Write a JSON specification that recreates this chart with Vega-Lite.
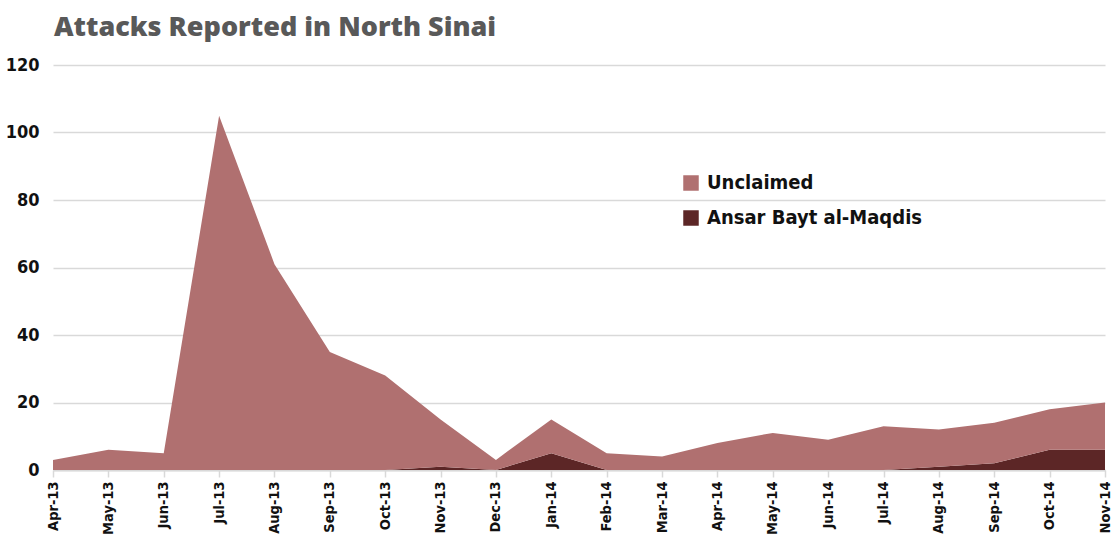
{
  "$schema": "https://vega.github.io/schema/vega-lite/v6.json",
  "width": 1052,
  "height": 405,
  "autosize": {"type": "none"},
  "padding": {"left": 53, "top": 65, "right": 10, "bottom": 68},
  "background": "white",
  "title": {
    "text": "Attacks Reported in North Sinai",
    "anchor": "start",
    "frame": "group",
    "font": "Open Sans",
    "fontSize": 27,
    "fontWeight": 800,
    "color": "#595959",
    "offset": 14,
    "dx": 1
  },
  "config": {
    "view": {"stroke": null},
    "axis": {
      "labelFont": "DejaVu Sans Condensed",
      "labelFontWeight": "bold",
      "labelColor": "#111111",
      "gridColor": "#d9d9d9",
      "gridWidth": 1.5,
      "title": null
    }
  },
  "data": {
    "values": [
      {"month": "Apr-13", "series": "Ansar Bayt al-Maqdis", "count": 0},
      {"month": "Apr-13", "series": "Unclaimed", "count": 3},
      {"month": "May-13", "series": "Ansar Bayt al-Maqdis", "count": 0},
      {"month": "May-13", "series": "Unclaimed", "count": 6},
      {"month": "Jun-13", "series": "Ansar Bayt al-Maqdis", "count": 0},
      {"month": "Jun-13", "series": "Unclaimed", "count": 5},
      {"month": "Jul-13", "series": "Ansar Bayt al-Maqdis", "count": 0},
      {"month": "Jul-13", "series": "Unclaimed", "count": 105},
      {"month": "Aug-13", "series": "Ansar Bayt al-Maqdis", "count": 0},
      {"month": "Aug-13", "series": "Unclaimed", "count": 61},
      {"month": "Sep-13", "series": "Ansar Bayt al-Maqdis", "count": 0},
      {"month": "Sep-13", "series": "Unclaimed", "count": 35},
      {"month": "Oct-13", "series": "Ansar Bayt al-Maqdis", "count": 0},
      {"month": "Oct-13", "series": "Unclaimed", "count": 28},
      {"month": "Nov-13", "series": "Ansar Bayt al-Maqdis", "count": 1},
      {"month": "Nov-13", "series": "Unclaimed", "count": 14},
      {"month": "Dec-13", "series": "Ansar Bayt al-Maqdis", "count": 0},
      {"month": "Dec-13", "series": "Unclaimed", "count": 3},
      {"month": "Jan-14", "series": "Ansar Bayt al-Maqdis", "count": 5},
      {"month": "Jan-14", "series": "Unclaimed", "count": 10},
      {"month": "Feb-14", "series": "Ansar Bayt al-Maqdis", "count": 0},
      {"month": "Feb-14", "series": "Unclaimed", "count": 5},
      {"month": "Mar-14", "series": "Ansar Bayt al-Maqdis", "count": 0},
      {"month": "Mar-14", "series": "Unclaimed", "count": 4},
      {"month": "Apr-14", "series": "Ansar Bayt al-Maqdis", "count": 0},
      {"month": "Apr-14", "series": "Unclaimed", "count": 8},
      {"month": "May-14", "series": "Ansar Bayt al-Maqdis", "count": 0},
      {"month": "May-14", "series": "Unclaimed", "count": 11},
      {"month": "Jun-14", "series": "Ansar Bayt al-Maqdis", "count": 0},
      {"month": "Jun-14", "series": "Unclaimed", "count": 9},
      {"month": "Jul-14", "series": "Ansar Bayt al-Maqdis", "count": 0},
      {"month": "Jul-14", "series": "Unclaimed", "count": 13},
      {"month": "Aug-14", "series": "Ansar Bayt al-Maqdis", "count": 1},
      {"month": "Aug-14", "series": "Unclaimed", "count": 11},
      {"month": "Sep-14", "series": "Ansar Bayt al-Maqdis", "count": 2},
      {"month": "Sep-14", "series": "Unclaimed", "count": 12},
      {"month": "Oct-14", "series": "Ansar Bayt al-Maqdis", "count": 6},
      {"month": "Oct-14", "series": "Unclaimed", "count": 12},
      {"month": "Nov-14", "series": "Ansar Bayt al-Maqdis", "count": 6},
      {"month": "Nov-14", "series": "Unclaimed", "count": 14}
    ]
  },
  "mark": {"type": "area", "opacity": 1, "interpolate": "linear"},
  "encoding": {
    "x": {
      "field": "month",
      "type": "ordinal",
      "sort": null,
      "scale": {"type": "point", "padding": 0},
      "axis": {
        "labelAngle": -90,
        "labelFontSize": 14.5,
        "labelPadding": 4,
        "labelLimit": 60,
        "domain": true,
        "domainColor": "#d9d9d9",
        "domainWidth": 2,
        "ticks": true,
        "tickColor": "#d9d9d9",
        "tickSize": 7,
        "tickWidth": 1.5,
        "grid": false
      }
    },
    "y": {
      "field": "count",
      "type": "quantitative",
      "stack": "zero",
      "scale": {"domain": [0, 120]},
      "axis": {
        "values": [0, 20, 40, 60, 80, 100, 120],
        "labelFontSize": 18,
        "labelPadding": 14,
        "ticks": false,
        "domain": false,
        "grid": true
      }
    },
    "color": {
      "field": "series",
      "type": "nominal",
      "scale": {
        "domain": ["Unclaimed", "Ansar Bayt al-Maqdis"],
        "range": ["#b07070", "#5c2626"]
      },
      "legend": {
        "title": null,
        "orient": "none",
        "legendX": 628,
        "legendY": 108,
        "symbolType": "square",
        "symbolSize": 240,
        "symbolStrokeWidth": 0,
        "symbolOpacity": 1,
        "labelFont": "DejaVu Sans Condensed",
        "labelFontWeight": "bold",
        "labelFontSize": 20,
        "labelColor": "#111111",
        "labelLimit": 400,
        "rowPadding": 15,
        "labelOffset": 6
      }
    },
    "order": {"field": "series", "sort": "ascending"}
  }
}
